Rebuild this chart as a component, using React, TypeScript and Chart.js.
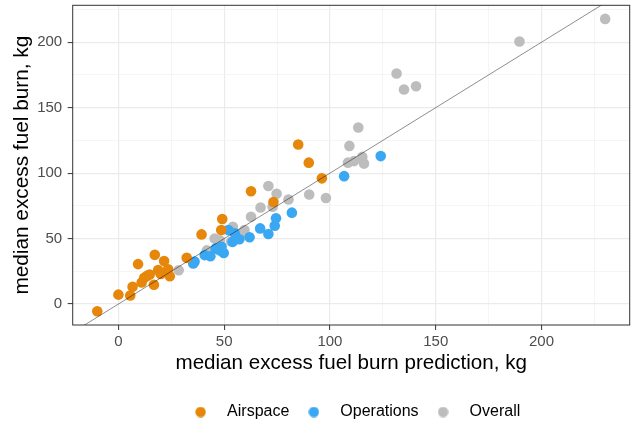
import React, { useEffect, useRef } from 'react';
import { Chart, registerables } from 'chart.js';

Chart.register(...registerables);

// ---- data ----
const seriesNames = ['Airspace', 'Operations', 'Overall'];
const seriesColors = ['#E6860A', '#3AA7F2', '#BDBDBD'];

const airspaceX = [-10, 0, 5.6, 6.7, 9.3, 11, 12.2, 13.5, 14.8, 16.8, 17.2, 18.8, 20, 21.6, 23.5, 24.3, 32.3, 39.3, 48.6, 49.1, 62.7, 73.3, 85, 90, 96.2];
const airspaceY = [-5.5, 7.2, 6.5, 13.2, 30.5, 16.5, 20, 21.5, 22.5, 14.8, 37.6, 26, 23, 32.8, 26.5, 21.2, 35.3, 53.2, 56.5, 65, 86.2, 78, 121.9, 108, 96];

const operationsX = [35.4, 36, 40.8, 43.5, 46, 47.8, 48.8, 49.8, 52, 54, 55, 57.2, 62, 67, 70.9, 73.9, 74.5, 82, 106.7, 124];
const operationsY = [31, 32.5, 37.4, 36.5, 42.5, 41, 43.7, 39, 56.5, 47.5, 54, 49.5, 51, 57.8, 53.5, 59.8, 65.5, 69.8, 97.7, 113];

const overallX = [28.5, 41.8, 45.5, 48, 53.3, 54.1, 56, 58, 59.6, 62.7, 67.2, 70.9, 72.9, 74.8, 80.4, 90.2, 98.1, 109.2, 108.5, 111.4, 113.4, 115.3, 116.1, 131.5, 135, 140.7, 189.6, 230.1];
const overallY = [25.8, 41, 50, 48.5, 47.8, 59, 52.5, 54, 56.5, 66.6, 73.8, 90.2, 74.3, 84.2, 79.9, 83.7, 81, 120.8, 108, 109.2, 134.9, 112.4, 107.3, 176.1, 163.9, 166.4, 200.5, 217.8];

// y = x reference line
const identityLine = [-40, 260];

const xMajorTicks = [0, 50, 100, 150, 200];
const xMinorTicks = [25, 75, 125, 175, 225];
const yMajorTicks = [0, 50, 100, 150, 200];
const yMinorTicks = [25, 75, 125, 175, 225];

const xRange = [-21.6, 241.7];
const yRange = [-16, 228.2];

const xTitle = 'median excess fuel burn prediction, kg';
const yTitle = 'median excess fuel burn, kg';

const FONT = "'Liberation Sans', Arial, sans-serif";

function pts(xs: number[], ys: number[]) {
  return xs.map((x, i) => ({ x, y: ys[i] }));
}

function dotImage(color: string) {
  const c = document.createElement('canvas');
  c.width = 11;
  c.height = 11;
  const g = c.getContext('2d')!;
  g.fillStyle = color;
  g.beginPath();
  g.arc(5.5, 5.5, 5.2, 0, Math.PI * 2);
  g.fill();
  return c;
}

const isMajor = (v: number, majors: number[]) => majors.includes(v);

const panelBorder = {
  id: 'panelBorder',
  afterDatasetsDraw(chart: any) {
    const { ctx, chartArea } = chart;
    ctx.save();
    ctx.strokeStyle = '#333333';
    ctx.lineWidth = 1;
    ctx.strokeRect(chartArea.left, chartArea.top, chartArea.right - chartArea.left, chartArea.bottom - chartArea.top);
    ctx.restore();
  },
};

const zeroPadding = (s: any) => {
  s.paddingTop = 0;
  s.paddingBottom = 0;
  s.paddingLeft = 0;
  s.paddingRight = 0;
};

export default function App() {
  const ref = useRef<HTMLCanvasElement>(null);

  useEffect(() => {
    if (!ref.current) return;
    const xs = [airspaceX, operationsX, overallX];
    const ys = [airspaceY, operationsY, overallY];
    const datasets: any[] = seriesNames.map((name, i) => ({
      type: 'scatter',
      label: name,
      data: pts(xs[i], ys[i]),
      backgroundColor: seriesColors[i],
      borderWidth: 0,
      pointRadius: 5.3,
      pointHoverRadius: 5.3,
      order: i + 1,
    }));
    datasets.push({
      type: 'line',
      label: '',
      data: pts(identityLine, identityLine),
      borderColor: 'rgba(0,0,0,0.75)',
      borderWidth: 0.6,
      pointRadius: 0,
      fill: false,
      clip: 0,
      order: 0,
    });

    const chart = new Chart(ref.current, {
      type: 'scatter',
      data: { datasets },
      plugins: [panelBorder],
      options: {
        animation: false,
        responsive: false,
        devicePixelRatio: 1,
        layout: { padding: { left: 0, right: 3.3, top: 5, bottom: -3 } },
        plugins: {
          tooltip: { enabled: false },
          legend: {
            position: 'bottom',
            fullSize: false,
            labels: {
              usePointStyle: true,
              pointStyleWidth: 37,
              padding: 6,
              color: '#000000',
              font: { family: FONT, size: 16 },
              generateLabels: (ch: any) =>
                ch.data.datasets
                  .map((ds: any, i: number) => ({
                    text: ds.label,
                    fillStyle: ds.backgroundColor,
                    strokeStyle: ds.backgroundColor,
                    lineWidth: 0,
                    pointStyle: ds.label ? dotImage(ds.backgroundColor) : 'circle',
                    hidden: false,
                    datasetIndex: i,
                    fontColor: '#000000',
                  }))
                  .filter((l: any) => l.text),
            },
          },
        },
        scales: {
          x: {
            type: 'linear',
            min: xRange[0],
            max: xRange[1],
            afterBuildTicks: (s: any) => {
              s.ticks = [...xMajorTicks, ...xMinorTicks].sort((a, b) => a - b).map((v) => ({ value: v }));
            },
            afterFit: (s: any) => {
              s.height = 73;
              zeroPadding(s);
            },
            border: { display: false },
            grid: {
              drawTicks: true,
              tickLength: 5,
              color: (c: any) => (isMajor(c.tick?.value, xMajorTicks) ? '#EBEBEB' : '#F3F3F3'),
              lineWidth: (c: any) => (isMajor(c.tick?.value, xMajorTicks) ? 1.2 : 0.8),
              tickColor: (c: any) => (isMajor(c.tick?.value, xMajorTicks) ? '#333333' : 'rgba(0,0,0,0)'),
              tickWidth: 1,
            },
            ticks: {
              padding: 3,
              color: '#4D4D4D',
              font: { family: FONT, size: 15 },
              maxRotation: 0,
              autoSkip: false,
              callback: (v: any) => (isMajor(v, xMajorTicks) ? String(v) : ''),
            },
            title: {
              display: true,
              text: xTitle,
              color: '#000000',
              font: { family: FONT, size: 20.6 },
              padding: { top: 0, bottom: 22 },
            },
          },
          y: {
            type: 'linear',
            min: yRange[0],
            max: yRange[1],
            afterBuildTicks: (s: any) => {
              s.ticks = [...yMajorTicks, ...yMinorTicks].sort((a, b) => a - b).map((v) => ({ value: v }));
            },
            afterFit: (s: any) => {
              s.width = 72.7;
              zeroPadding(s);
            },
            border: { display: false },
            grid: {
              drawTicks: true,
              tickLength: 5,
              color: (c: any) => (isMajor(c.tick?.value, yMajorTicks) ? '#EBEBEB' : '#F3F3F3'),
              lineWidth: (c: any) => (isMajor(c.tick?.value, yMajorTicks) ? 1.2 : 0.8),
              tickColor: (c: any) => (isMajor(c.tick?.value, yMajorTicks) ? '#333333' : 'rgba(0,0,0,0)'),
              tickWidth: 1,
            },
            ticks: {
              padding: 5.5,
              color: '#4D4D4D',
              font: { family: FONT, size: 15 },
              autoSkip: false,
              callback: (v: any) => (isMajor(v, yMajorTicks) ? String(v) : ''),
            },
            title: {
              display: true,
              text: yTitle,
              color: '#000000',
              font: { family: FONT, size: 20.8 },
              padding: { top: 10, bottom: 0 },
            },
          },
        },
      } as any,
    });
    return () => chart.destroy();
  }, []);

  return (
    <div style={{ position: 'fixed', left: 0, top: 0, width: 635, height: 427, background: '#ffffff' }}>
      <canvas ref={ref} width={635} height={427} style={{ display: 'block', width: 635, height: 427 }} />
    </div>
  );
}
